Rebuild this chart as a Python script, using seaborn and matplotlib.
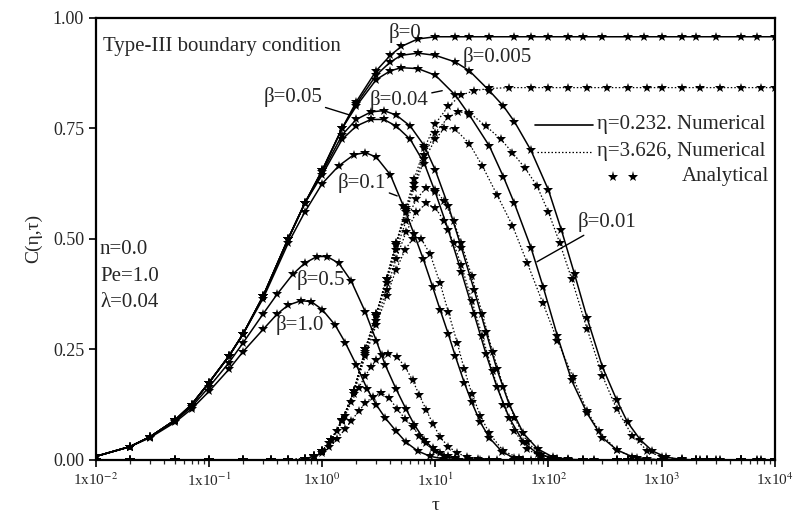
import matplotlib
matplotlib.use("Agg")
import matplotlib.pyplot as plt
import seaborn as sns
from matplotlib.ticker import FixedLocator, LogLocator, NullFormatter

# ---------------- data ----------------
# solid: eta = 0.232 (numerical) ; dotted: eta = 3.626 (numerical)
tau_s_b0 = [0.01, 0.02, 0.03, 0.05, 0.07, 0.1, 0.15, 0.2, 0.3, 0.5, 0.7, 1.0, 1.5, 2.0, 3.0, 4.0, 5.0, 7.0, 10,
            15, 20, 30, 50, 70, 100, 150, 200, 300, 500, 700, 1000, 1500, 2000, 3000, 5000, 7000, 10000]
c_s_b0 = [0.008, 0.03, 0.052, 0.09, 0.125, 0.175, 0.235, 0.285, 0.37, 0.50, 0.58, 0.655, 0.75, 0.81, 0.88, 0.915,
          0.935, 0.952, 0.957, 0.957, 0.957, 0.957, 0.957, 0.957, 0.957, 0.957, 0.957, 0.957, 0.957, 0.957,
          0.957, 0.957, 0.957, 0.957, 0.957, 0.957, 0.957]

tau_s_b005 = [0.01, 0.02, 0.03, 0.05, 0.07, 0.1, 0.15, 0.2, 0.3, 0.5, 0.7, 1.0, 1.5, 2.0, 3.0, 4.0, 5.0, 7.0, 10,
              15, 20, 30, 40, 50, 70, 100, 130, 170, 220, 300, 400, 500, 650, 830, 1100, 1500, 2000, 3000, 5000,
              7000, 10000]
c_s_b005 = [0.008, 0.03, 0.052, 0.09, 0.125, 0.175, 0.235, 0.285, 0.37, 0.50, 0.58, 0.655, 0.75, 0.805, 0.87, 0.90,
            0.915, 0.92, 0.915, 0.90, 0.88, 0.835, 0.80, 0.765, 0.70, 0.61, 0.52, 0.42, 0.32, 0.21, 0.136, 0.085,
            0.045, 0.02, 0.006, 0.001, 0, 0, 0, 0, 0]

tau_s_b01 = [0.01, 0.02, 0.03, 0.05, 0.07, 0.1, 0.15, 0.2, 0.3, 0.5, 0.7, 1.0, 1.5, 2.0, 3.0, 4.0, 5.0, 7.0, 10,
             15, 20, 30, 40, 50, 70, 90, 120, 160, 220, 300, 400, 550, 750, 1000, 1500, 2000, 3000, 5000, 7000,
             10000]
c_s_b01 = [0.008, 0.03, 0.052, 0.09, 0.125, 0.175, 0.235, 0.285, 0.37, 0.50, 0.58, 0.655, 0.75, 0.80, 0.86, 0.88,
           0.887, 0.885, 0.87, 0.825, 0.78, 0.71, 0.64, 0.58, 0.48, 0.39, 0.28, 0.18, 0.105, 0.05, 0.023, 0.007,
           0.002, 0, 0, 0, 0, 0, 0, 0]

tau_s_b04 = [0.01, 0.02, 0.03, 0.05, 0.07, 0.1, 0.15, 0.2, 0.3, 0.5, 0.7, 1.0, 1.5, 2.0, 2.7, 3.5, 4.5, 6, 8, 10,
             13, 17, 22, 28, 35, 45, 60, 80, 110, 150, 250, 500, 1000, 2000, 5000, 10000]
c_s_b04 = [0.008, 0.03, 0.052, 0.09, 0.125, 0.175, 0.235, 0.285, 0.37, 0.50, 0.58, 0.65, 0.735, 0.77, 0.787, 0.79,
           0.78, 0.755, 0.71, 0.655, 0.575, 0.48, 0.385, 0.29, 0.205, 0.125, 0.06, 0.025, 0.006, 0.001, 0, 0, 0,
           0, 0, 0]

tau_s_b05 = [0.01, 0.02, 0.03, 0.05, 0.07, 0.1, 0.15, 0.2, 0.3, 0.5, 0.7, 1.0, 1.5, 2.0, 2.7, 3.5, 4.5, 6, 8, 10,
             13, 17, 22, 28, 35, 45, 60, 80, 110, 150, 250, 500, 1000, 2000, 5000, 10000]
c_s_b05 = [0.008, 0.03, 0.052, 0.09, 0.125, 0.175, 0.235, 0.285, 0.37, 0.50, 0.58, 0.645, 0.725, 0.755, 0.77, 0.77,
           0.755, 0.725, 0.67, 0.605, 0.52, 0.425, 0.33, 0.24, 0.165, 0.095, 0.04, 0.014, 0.003, 0, 0, 0, 0, 0,
           0, 0]

tau_s_b1 = [0.01, 0.02, 0.03, 0.05, 0.07, 0.1, 0.15, 0.2, 0.3, 0.5, 0.7, 1.0, 1.4, 1.9, 2.4, 3.0, 4.0, 5.2, 6.5,
            7.8, 9.5, 11, 13, 15, 18, 21, 25, 30, 39, 50, 70, 100, 200, 500, 1000, 2000, 5000, 10000]
c_s_b1 = [0.008, 0.03, 0.052, 0.09, 0.125, 0.175, 0.235, 0.285, 0.365, 0.49, 0.56, 0.625, 0.665, 0.69, 0.695,
          0.685, 0.645, 0.575, 0.51, 0.455, 0.39, 0.34, 0.285, 0.235, 0.175, 0.13, 0.085, 0.05, 0.018, 0.004,
          0, 0, 0, 0, 0, 0, 0, 0]

tau_s_b5 = [0.01, 0.02, 0.03, 0.05, 0.07, 0.1, 0.15, 0.2, 0.3, 0.4, 0.55, 0.7, 0.9, 1.1, 1.4, 1.8, 2.4, 3.0, 3.6,
            4.5, 5.5, 6.5, 8, 10, 12, 15, 20, 30, 50, 100, 200, 500, 1000, 2000, 5000, 10000]
c_s_b5 = [0.008, 0.03, 0.052, 0.088, 0.12, 0.165, 0.22, 0.265, 0.33, 0.375, 0.42, 0.445, 0.46, 0.46, 0.445,
          0.405, 0.335, 0.27, 0.215, 0.16, 0.115, 0.08, 0.045, 0.02, 0.009, 0.003, 0, 0, 0, 0, 0, 0, 0, 0, 0, 0]

tau_s_b10 = [0.01, 0.02, 0.03, 0.05, 0.07, 0.1, 0.15, 0.2, 0.3, 0.4, 0.5, 0.65, 0.8, 1.0, 1.3, 1.6, 2.0, 2.5,
             3.0, 3.6, 4.5, 5.5, 7, 9, 12, 16, 25, 50, 100, 200, 500, 1000, 2000, 5000, 10000]
c_s_b10 = [0.008, 0.03, 0.05, 0.085, 0.115, 0.155, 0.205, 0.245, 0.295, 0.33, 0.35, 0.36, 0.358, 0.34, 0.305,
           0.265, 0.215, 0.16, 0.125, 0.095, 0.065, 0.04, 0.02, 0.008, 0.002, 0, 0, 0, 0, 0, 0, 0, 0, 0, 0]

tau_d_b0 = [0.01, 0.02, 0.05, 0.1, 0.2, 0.35, 0.5, 0.7, 0.85, 1.0, 1.2, 1.5, 1.9, 2.4, 3.0, 3.7, 4.5, 5.5, 6.5, 8,
            10, 13, 17, 22, 30, 45, 70, 100, 150, 220, 330, 500, 750, 1000, 1500, 2200, 3300, 5000, 7500, 10000]
c_d_b0 = [0, 0, 0, 0, 0, 0, 0, 0.002, 0.008, 0.02, 0.045, 0.09, 0.155, 0.25, 0.33, 0.41, 0.49, 0.57, 0.635,
          0.705, 0.76, 0.80, 0.825, 0.835, 0.84, 0.842, 0.842, 0.842, 0.842, 0.842, 0.842, 0.842, 0.842, 0.842,
          0.842, 0.842, 0.842, 0.842, 0.842, 0.842]

tau_d_b005 = [0.01, 0.02, 0.05, 0.1, 0.2, 0.35, 0.5, 0.7, 0.85, 1.0, 1.2, 1.5, 1.9, 2.4, 3.0, 3.7, 4.5, 5.5, 6.5,
              8, 10, 13, 16, 20, 28, 38, 48, 62, 79, 100, 126, 160, 220, 300, 400, 550, 750, 1000, 1500, 2200,
              3300, 5000, 7500, 10000]
c_d_b005 = [0, 0, 0, 0, 0, 0, 0, 0.002, 0.008, 0.02, 0.045, 0.09, 0.155, 0.25, 0.33, 0.41, 0.49, 0.565, 0.625,
            0.69, 0.74, 0.775, 0.787, 0.785, 0.755, 0.725, 0.695, 0.66, 0.62, 0.56, 0.49, 0.41, 0.295, 0.19,
            0.115, 0.055, 0.02, 0.007, 0.001, 0, 0, 0, 0, 0]

tau_d_b01 = [0.01, 0.02, 0.05, 0.1, 0.2, 0.35, 0.5, 0.7, 0.85, 1.0, 1.2, 1.5, 1.9, 2.4, 3.0, 3.7, 4.5, 5.5, 6.5,
             8, 10, 12, 15, 20, 26, 35, 48, 65, 89, 120, 164, 220, 280, 400, 600, 1000, 1500, 2200, 3300, 5000,
             7500, 10000]
c_d_b01 = [0, 0, 0, 0, 0, 0, 0, 0.002, 0.008, 0.02, 0.045, 0.09, 0.155, 0.25, 0.33, 0.41, 0.485, 0.56, 0.615,
           0.68, 0.725, 0.75, 0.748, 0.715, 0.665, 0.6, 0.53, 0.445, 0.355, 0.27, 0.188, 0.11, 0.065, 0.022,
           0.004, 0, 0, 0, 0, 0, 0, 0]

tau_d_b04 = [0.01, 0.02, 0.05, 0.1, 0.2, 0.35, 0.5, 0.7, 0.85, 1.0, 1.2, 1.5, 1.9, 2.4, 3.0, 3.7, 4.5, 5.5, 6.8,
             8.3, 10, 12, 14.5, 17, 21, 26, 32, 40, 50, 65, 85, 120, 200, 400, 1000, 2500, 5000, 10000]
c_d_b04 = [0, 0, 0, 0, 0, 0, 0, 0.002, 0.008, 0.02, 0.045, 0.09, 0.155, 0.245, 0.325, 0.4, 0.475, 0.54, 0.59,
           0.615, 0.61, 0.585, 0.54, 0.49, 0.415, 0.33, 0.245, 0.165, 0.095, 0.04, 0.012, 0.002, 0, 0, 0, 0, 0, 0]

tau_d_b05 = [0.01, 0.02, 0.05, 0.1, 0.2, 0.35, 0.5, 0.7, 0.85, 1.0, 1.2, 1.5, 1.9, 2.4, 3.0, 3.7, 4.5, 5.5, 6.8,
             8.3, 10, 12, 14.5, 17, 21, 26, 32, 40, 50, 65, 85, 120, 200, 400, 1000, 2500, 5000, 10000]
c_d_b05 = [0, 0, 0, 0, 0, 0, 0, 0.002, 0.008, 0.02, 0.045, 0.09, 0.155, 0.24, 0.315, 0.385, 0.455, 0.515, 0.56,
           0.58, 0.57, 0.54, 0.49, 0.44, 0.36, 0.28, 0.2, 0.125, 0.065, 0.025, 0.006, 0.001, 0, 0, 0, 0, 0, 0]

tau_d_b1 = [0.01, 0.02, 0.05, 0.1, 0.2, 0.35, 0.5, 0.7, 0.85, 1.0, 1.2, 1.5, 1.9, 2.4, 3.0, 3.7, 4.5, 5.4, 6.3,
            7.5, 9, 11, 13, 15.6, 18, 21, 25, 30, 40, 55, 80, 150, 400, 1000, 2500, 5000, 10000]
c_d_b1 = [0, 0, 0, 0, 0, 0, 0, 0.002, 0.008, 0.02, 0.045, 0.088, 0.15, 0.235, 0.305, 0.37, 0.43, 0.475, 0.5, 0.5,
          0.465, 0.4, 0.335, 0.265, 0.205, 0.15, 0.1, 0.06, 0.02, 0.004, 0, 0, 0, 0, 0, 0, 0]

tau_d_b5 = [0.01, 0.02, 0.05, 0.1, 0.2, 0.35, 0.5, 0.7, 0.85, 1.0, 1.15, 1.35, 1.6, 1.8, 2.1, 2.4, 2.7, 3.0, 3.4,
            3.8, 4.6, 5.4, 6.3, 7.2, 8.3, 9.5, 11, 13, 15.6, 19, 24, 35, 60, 150, 400, 1000, 2500, 5000, 10000]
c_d_b5 = [0, 0, 0, 0, 0, 0, 0, 0.002, 0.008, 0.02, 0.038, 0.065, 0.1, 0.13, 0.163, 0.19, 0.21, 0.225, 0.237,
          0.24, 0.233, 0.21, 0.18, 0.147, 0.113, 0.082, 0.052, 0.03, 0.016, 0.006, 0.001, 0, 0, 0, 0, 0, 0, 0, 0]

tau_d_b10 = [0.01, 0.02, 0.05, 0.1, 0.2, 0.35, 0.5, 0.7, 0.85, 1.0, 1.15, 1.35, 1.6, 1.8, 2.1, 2.4, 2.8, 3.3, 3.9,
             4.6, 5.4, 6.3, 7.2, 8.3, 9.5, 11, 13, 15, 20, 30, 60, 150, 400, 1000, 2500, 5000, 10000]
c_d_b10 = [0, 0, 0, 0, 0, 0, 0, 0.002, 0.007, 0.016, 0.03, 0.048, 0.07, 0.088, 0.11, 0.128, 0.143, 0.152, 0.14,
           0.115, 0.093, 0.075, 0.055, 0.038, 0.026, 0.016, 0.008, 0.004, 0.001, 0, 0, 0, 0, 0, 0, 0, 0]

xtick_vals = [1e-2, 1e-1, 1e0, 1e1, 1e2, 1e3, 1e4]
xtick_labels = [r"1x10$^{-2}$", r"1x10$^{-1}$", r"1x10$^{0}$", r"1x10$^{1}$", r"1x10$^{2}$", r"1x10$^{3}$",
                r"1x10$^{4}$"]
ytick_vals = [0.0, 0.25, 0.5, 0.75, 1.0]
ytick_labels = ["0.00", "0.25", "0.50", "0.75", "1.00"]
legend_labels = ["η=0.232. Numerical", "η=3.626, Numerical", "Analytical"]

# ---------------- style ----------------
sns.set_theme(style="ticks")
plt.rcParams["font.family"] = ["Liberation Serif", "DejaVu Serif"]
plt.rcParams["mathtext.fontset"] = "stix"

fig = plt.figure(figsize=(7.93, 5.22), dpi=100)
ax = fig.add_axes([0.121, 0.119, 0.856, 0.847])
ax.set_xscale("log")

solid_curves = [(tau_s_b0, c_s_b0), (tau_s_b005, c_s_b005), (tau_s_b01, c_s_b01), (tau_s_b04, c_s_b04),
                (tau_s_b05, c_s_b05), (tau_s_b1, c_s_b1), (tau_s_b5, c_s_b5), (tau_s_b10, c_s_b10)]
dotted_curves = [(tau_d_b0, c_d_b0), (tau_d_b005, c_d_b005), (tau_d_b01, c_d_b01), (tau_d_b04, c_d_b04),
                 (tau_d_b05, c_d_b05), (tau_d_b1, c_d_b1), (tau_d_b5, c_d_b5), (tau_d_b10, c_d_b10)]

dot_ls = (0, (1.2, 1.6))
ms = 7
for t, c in solid_curves:
    sns.lineplot(x=t, y=c, ax=ax, color="black", linewidth=1.1, marker="*", markersize=ms,
                 markeredgewidth=0, sort=False, estimator=None, legend=False)
for t, c in dotted_curves:
    sns.lineplot(x=t, y=c, ax=ax, color="black", linewidth=0.9, linestyle=dot_ls, marker="*", markersize=ms,
                 markeredgewidth=0, sort=False, estimator=None, legend=False)

ax.set_xlim(1e-2, 1e4)
ax.set_ylim(0, 1.0)
ax.xaxis.set_major_locator(FixedLocator(xtick_vals))
ax.set_xticklabels(xtick_labels)
ax.xaxis.set_minor_locator(LogLocator(base=10, subs=[2, 3, 4, 5, 6, 7, 8, 9], numticks=20))
ax.xaxis.set_minor_formatter(NullFormatter())
ax.set_yticks(ytick_vals)
ax.set_yticklabels(ytick_labels)
ax.tick_params(axis="both", which="major", direction="out", length=5, width=1.2,
               top=False, right=False, color="black")
ax.tick_params(axis="x", which="major", labelsize=11)
ax.tick_params(axis="y", which="major", labelsize=13)
ax.tick_params(axis="x", which="minor", direction="out", length=3, width=0.9, top=False)
ax.tick_params(axis="y", which="minor", left=False, right=False)
for sp in ax.spines.values():
    sp.set_visible(True)
    sp.set_linewidth(1.6)
    sp.set_color("black")

ax.set_xlabel("τ", fontsize=14, labelpad=6)
ax.set_ylabel("C(η,τ)", fontsize=14, labelpad=8)

fs = 15
ax.text(0.010, 0.935, "Type-III boundary condition", transform=ax.transAxes, fontsize=fs, va="center")
ax.text(0.006, 0.475, "n=0.0", transform=ax.transAxes, fontsize=fs, va="center")
ax.text(0.006, 0.414, "Pe=1.0", transform=ax.transAxes, fontsize=fs, va="center")
ax.text(0.006, 0.355, "λ=0.04", transform=ax.transAxes, fontsize=fs, va="center")

ax.text(5.4, 0.966, "β=0", fontsize=fs, ha="center", va="center")
ax.text(35, 0.912, "β=0.005", fontsize=fs, ha="center", va="center")
ax.text(0.97, 0.407, "β=0.5", fontsize=fs, ha="center", va="center")
ax.text(0.635, 0.305, "β=1.0", fontsize=fs, ha="center", va="center")
arrow = dict(arrowstyle="-", color="black", lw=1.0, shrinkA=0, shrinkB=0)
ax.annotate("β=0.1", xy=(4.6, 0.597), xytext=(2.24, 0.627), fontsize=fs, ha="center", va="center",
            arrowprops=arrow)
ax.annotate("β=0.05", xy=(1.75, 0.78), xytext=(1.0, 0.82), fontsize=fs, ha="right", va="center",
            arrowprops=arrow)
ax.annotate("β=0.04", xy=(11.5, 0.835), xytext=(8.7, 0.815), fontsize=fs, ha="right", va="center",
            arrowprops=arrow)
ax.annotate("β=0.01", xy=(79, 0.448), xytext=(182, 0.538), fontsize=fs, ha="left", va="center",
            arrowprops=arrow)

# legend keys drawn in axes coordinates
tr = ax.transAxes
ax.plot([0.6465, 0.732], [0.758, 0.758], transform=tr, color="black", lw=1.2)
ax.plot([0.6495, 0.732], [0.697, 0.697], transform=tr, color="black", lw=0.9, linestyle=dot_ls)
ax.plot([0.761, 0.791], [0.640, 0.640], transform=tr, color="black", linestyle="none", marker="*",
        markersize=8, markeredgewidth=0)
ax.text(0.738, 0.758, legend_labels[0], transform=tr, fontsize=fs, va="center", ha="left")
ax.text(0.738, 0.697, legend_labels[1], transform=tr, fontsize=fs, va="center", ha="left")
ax.text(0.992, 0.640, legend_labels[2], transform=tr, fontsize=fs, va="center", ha="right")

fig.savefig("out.png", dpi=100)
